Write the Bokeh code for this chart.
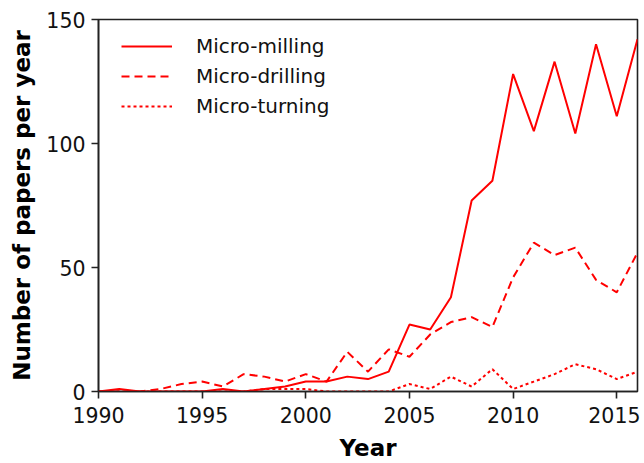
from bokeh.plotting import figure
from bokeh.models import Range1d, FixedTicker, Legend, LegendItem
from bokeh.embed import file_html
from bokeh.resources import INLINE

years = list(range(1990, 2017))
milling = [0, 1, 0, 0, 0, 0, 1, 0, 1, 2, 4, 4, 6, 5, 8, 27, 25, 38, 77, 85,
           128, 105, 133, 104, 140, 111, 142]
drilling = [0, 0, 0, 1, 3, 4, 2, 7, 6, 4, 7, 4, 16, 8, 17, 14, 23, 28, 30, 26,
            46, 60, 55, 58, 45, 40, 56]
turning = [0, 0, 0, 0, 0, 0, 0, 0, 1, 1, 1, 0, 0, 0, 0, 3, 1, 6, 2, 9,
           1, 4, 7, 11, 9, 5, 8]
series_names = ["Micro-milling", "Micro-drilling", "Micro-turning"]
x_ticks = [1990, 1995, 2000, 2005, 2010, 2015]
y_ticks = [0, 50, 100, 150]

FONT = "DejaVu Sans"

p = figure(width=640, height=463, output_backend="svg", toolbar_location=None,
           x_range=Range1d(1990, 2016), y_range=Range1d(0, 150),
           min_border_left=98, min_border_right=3, min_border_top=19,
           min_border_bottom=72)
p.grid.visible = False
p.outline_line_color = "#222222"
p.outline_line_width = 1.6
p.background_fill_color = "white"
p.border_fill_color = "white"

r1 = p.line(years, milling, line_color="#ff0000", line_width=2)
r2 = p.line(years, drilling, line_color="#ff0000", line_width=2, line_dash="8 5")
r3 = p.line(years, turning, line_color="#ff0000", line_width=2, line_dash="3 3")

for ax in (p.xaxis[0], p.yaxis[0]):
    ax.axis_line_color = "#222222"
    ax.axis_line_width = 1.6
    ax.major_tick_line_color = "#222222"
    ax.major_tick_line_width = 1.6
    ax.major_tick_out = 7
    ax.major_tick_in = 0
    ax.minor_tick_line_color = None
    ax.major_label_text_font = FONT
    ax.major_label_text_font_size = "20.5px"
    ax.major_label_text_color = "#111111"
    ax.axis_label_text_font = FONT
    ax.axis_label_text_font_style = "bold"
    ax.axis_label_text_font_size = "23px"
    ax.axis_label_text_color = "black"

p.xaxis.major_label_standoff = 8
p.xaxis.axis_label_standoff = 9
p.yaxis.major_label_standoff = 6
p.yaxis.axis_label_standoff = 8

p.xaxis.ticker = FixedTicker(ticks=x_ticks)
p.yaxis.ticker = FixedTicker(ticks=y_ticks)
p.xaxis.axis_label = "Year"
p.yaxis.axis_label = "Number of papers per year"

legend = Legend(items=[LegendItem(label=series_names[0], renderers=[r1]),
                       LegendItem(label=series_names[1], renderers=[r2]),
                       LegendItem(label=series_names[2], renderers=[r3])],
                location=(23, 270))
legend.padding = 0
legend.margin = 0
legend.spacing = 0
legend.border_line_color = None
legend.background_fill_alpha = 0
legend.glyph_width = 51
legend.glyph_height = 30
legend.label_height = 30
legend.label_standoff = 24
legend.label_text_font = FONT
legend.label_text_font_size = "20px"
legend.label_text_color = "#111111"
p.add_layout(legend, "center")

open("out.html", "w").write(file_html(p, INLINE))
